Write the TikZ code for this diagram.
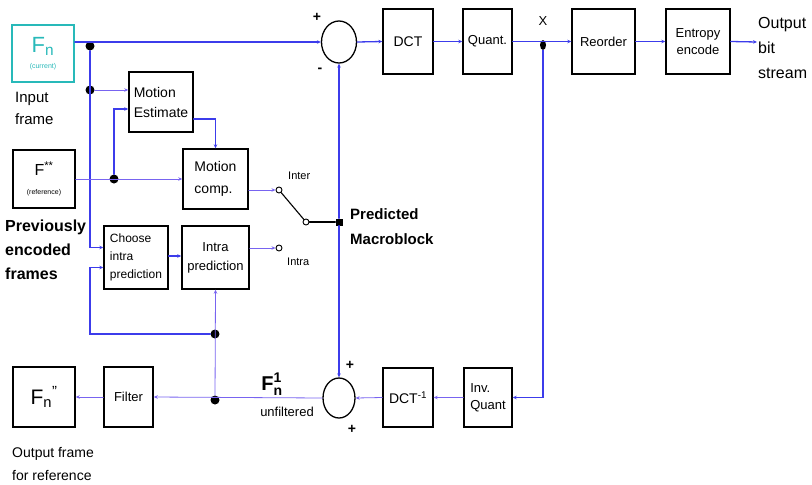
\documentclass[tikz,border=0pt]{standalone}
\usepackage{amsmath}
\usepackage{fontspec}
\setmainfont{Liberation Sans}
\usepackage{tikz}
\usetikzlibrary{arrows.meta,shapes.geometric}
\usepackage{xcolor}
\definecolor{wire}{RGB}{60,60,235}
\definecolor{thinwire}{RGB}{120,100,240}
\definecolor{tealbox}{RGB}{40,185,185}
\tikzset{
  blk/.style={draw,line width=1.4pt,inner sep=1pt,align=center,font=\fontsize{13}{17}\selectfont},
  summer/.style={draw,ellipse,line width=1.3pt,inner sep=0pt},
  dot/.style={circle,fill=black,inner sep=0pt,minimum size=9pt},
  port/.style={circle,draw,line width=0.9pt,inner sep=0pt,minimum size=6pt},
  wr/.style={wire,line width=1.3pt,->},
  tw/.style={thinwire,line width=0.8pt,->},
  lbl/.style={inner sep=0pt,align=left,anchor=north west}
}

\begin{document}
\begin{tikzpicture}[x=1pt,y=-1pt,>={Stealth[length=4pt,width=3.5pt]},line cap=round]
\useasboundingbox (0,0) rectangle (812,485);
\node[blk,draw=tealbox,text=tealbox,line width=1.7pt,minimum width=62pt,minimum height=57pt] (fcur) at (43,53.5) {{\fontsize{22}{22}\selectfont F$_{\text{n}}$}\\[-1pt]{\fontsize{7}{8}\selectfont (current)}};
\node[blk,minimum width=62pt,minimum height=58pt] (fref) at (44,179) {{\fontsize{16}{16}\selectfont F$^{\text{**}}$}\\[2pt]{\fontsize{7}{8}\selectfont (reference)}};
\node[blk,minimum width=62pt,minimum height=60pt] (fout) at (44,397) {\fontsize{21}{21}\selectfont F\textsubscript{n}\textsuperscript{''}};
\node[blk,minimum width=64pt,minimum height=60pt,align=left,font=\fontsize{14}{20}\selectfont] (me) at (161,102) {Motion\\Estimate};
\node[blk,minimum width=65pt,minimum height=60pt,align=left,font=\fontsize{14}{22}\selectfont] (mc) at (215.5,179) {Motion\\comp.};
\node[blk,minimum width=64pt,minimum height=63pt,align=left,font=\fontsize{12}{18}\selectfont] (cip) at (136,257.5) {Choose\\intra\\prediction};
\node[blk,minimum width=67pt,minimum height=63pt,font=\fontsize{13}{19}\selectfont] (ip) at (215.5,257.5) {Intra\\prediction};
\node[blk,minimum width=49pt,minimum height=60pt] (filt) at (128.5,397) {Filter};
\node[summer,minimum width=35pt,minimum height=42pt] (sumt) at (339,42) {};
\node[summer,minimum width=32pt,minimum height=40pt] (sumb) at (339,398) {};
\node[blk,minimum width=50pt,minimum height=65pt,font=\fontsize{14}{17}\selectfont] (dct) at (408,41.5) {DCT};
\node[blk,minimum width=49pt,minimum height=65pt] (quant) at (487.5,41.5) {Quant.};
\node[blk,minimum width=63pt,minimum height=65pt] (reord) at (603.5,41.5) {Reorder};
\node[blk,minimum width=64pt,minimum height=65pt] (ent) at (698,41.5) {Entropy\\encode};
\node[blk,minimum width=50pt,minimum height=59pt,font=\fontsize{14}{17}\selectfont] (idct) at (408,397.5) {DCT$^{\text{-1}}$};
\node[blk,minimum width=48pt,minimum height=59pt,align=left] (iquant) at (488,397.5) {Inv.\\Quant};
\node[port] (pinter) at (279,190) {};
\node[port] (pintra) at (279,248) {};
\node[port] (psw) at (306,222) {};
\node[dot] (j1) at (90,46) {};
\node[dot] (j2) at (90,90) {};
\node[dot] (j3) at (114,179) {};
\node[dot,shape=rectangle,minimum size=7pt] (j4) at (339,222) {};
\node[dot,ellipse,minimum width=6pt,minimum height=10pt] (j5) at (543,45) {};
\node[dot] (j6) at (215,334) {};
\node[dot] (j7) at (215,400) {};
\coordinate (bitout) at (757,42);
\draw[wr] (fcur.east |- sumt.west) -- (sumt.west);
\draw[wr] (sumt.east) -- (dct.west);
\draw[wr] (dct.east) -- (quant.west);
\draw[wr] (quant.east) -- (reord.west);
\draw[wr] (reord.east) -- (ent.west);
\draw[wr] (ent.east) -- (bitout);
\draw[wr] (j1) |- ([yshift=10pt]cip.west);
\draw[tw] (j2) -- (me.west |- j2);
\draw[wr] (j3) |- ([yshift=-7pt]me.west);
\draw[wr] ([yshift=-17pt]me.east) -| (mc.north);
\draw[tw] (fref.east) -- (mc.west);
\draw[tw] ([yshift=-11pt]mc.east) -- (pinter);
\draw[wr] (cip.east |- 0,256) -- (ip.west |- 0,256);
\draw[tw] (ip.east |- pintra) -- (pintra);
\draw[line width=1.1pt] (pinter) -- (psw);
\draw[line width=1.3pt] (psw) -- (j4);
\draw[wr] (j4) -- (sumt.south);
\draw[wr] (j4) -- (sumb.north);
\draw[wr] (j5) |- (iquant.east);
\draw[tw] (iquant.west) -- (idct.east);
\draw[tw] (idct.west) -- (sumb.east);
\draw[tw] (sumb.west) -- (filt.east);
\draw[tw] (filt.west) -- (fout.east);
\draw[tw] (j7) -- (ip.south);
\draw[wr] (j6) -- (j6 -| j2) |- ([yshift=-10pt]cip.west);
\node[lbl,font=\fontsize{15}{22}\selectfont] (inlbl) at (15,92) {Input\\frame};
\node[lbl,font=\bfseries\fontsize{16}{24}\selectfont] (prevlbl) at (5,220) {Previously\\encoded\\frames};
\node[lbl,font=\fontsize{14}{23}\selectfont] (outlbl) at (12,447) {Output frame\\for reference};
\node[lbl,font=\fontsize{16}{25}\selectfont] (bitlbl) at (758,17) {Output\\bit\\stream};
\node[lbl,font=\bfseries\fontsize{15}{25}\selectfont] (predlbl) at (350,208) {Predicted\\Macroblock};
\node[lbl,font=\fontsize{11}{13}\selectfont] (interlbl) at (288,172) {Inter};
\node[lbl,font=\fontsize{11}{13}\selectfont] (intralbl) at (287,258) {Intra};
\node[font=\fontsize{13}{15}\selectfont] (xlbl) at (543,21) {X};
\node[font=\bfseries\fontsize{14}{15}\selectfont] (plus1) at (317,17) {+};
\node[font=\bfseries\fontsize{14}{15}\selectfont] (minus1) at (320,70) {-};
\node[font=\bfseries\fontsize{14}{15}\selectfont] (plus2) at (350,365) {+};
\node[font=\bfseries\fontsize{14}{15}\selectfont] (plus3) at (352,429) {+};
\node[font=\bfseries\fontsize{20}{20}\selectfont] (recon) at (272,384) {F$^{\text{1}}_{\text{n}}$};
\node[font=\fontsize{13}{15}\selectfont] (unflbl) at (287,412) {unfiltered};
\end{tikzpicture}
\end{document}
